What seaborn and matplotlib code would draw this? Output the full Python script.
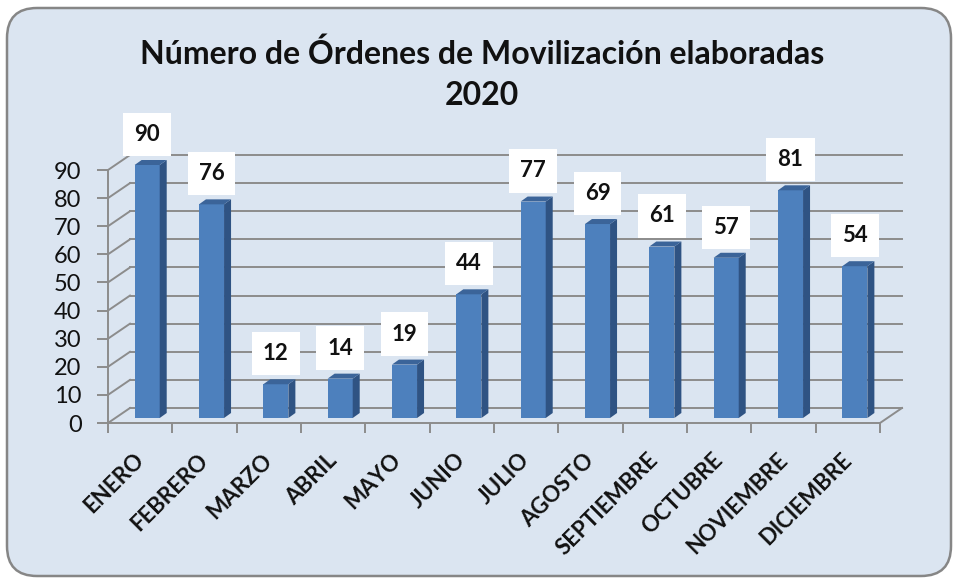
import numpy as np
import pandas as pd
import seaborn as sns
import matplotlib
matplotlib.use("Agg")
import matplotlib.pyplot as plt
from matplotlib.patches import Polygon, FancyBboxPatch
from matplotlib.transforms import ScaledTranslation


# datos del grafico
meses = ["ENERO", "FEBRERO", "MARZO", "ABRIL", "MAYO", "JUNIO", "JULIO",
         "AGOSTO", "SEPTIEMBRE", "OCTUBRE", "NOVIEMBRE", "DICIEMBRE"]
ordenes = [90, 76, 12, 14, 19, 44, 77, 69, 61, 57, 81, 54]
yticks = list(range(0, 100, 10))
titulo = "Número de Órdenes de Movilización elaboradas\n2020"

# estetica
plt.rcParams["font.family"] = ["Lato", "DejaVu Sans"]
fondo = "#dbe5f1"
cara = "#4d80bd"
lado = "#2f5383"
techo = "#3b6499"
rejilla = "#8c8c8c"
texto = "#111111"

fig = plt.figure(figsize=(9.58, 5.82), dpi=100, facecolor="white")

# marco redondeado del grafico
marco = FancyBboxPatch((0.07, 0.06), 9.44, 5.68,
                       boxstyle="round,pad=0,rounding_size=0.3",
                       transform=fig.dpi_scale_trans,
                       fc=fondo, ec="#868686", lw=1.8, zorder=0)
fig.add_artist(marco)

ax = fig.add_axes([108 / 958, 159 / 582, 772 / 958, 253 / 582])
ax.set_facecolor("none")

df = pd.DataFrame({"Mes": meses, "Ordenes": ordenes})
sns.barplot(data=df, x="Mes", y="Ordenes", color=cara, saturation=1,
            width=0.39, ax=ax, zorder=3)
ax.set_xlim(-0.5, len(meses) - 0.5)
ax.set_ylim(yticks[0], yticks[-1])

# pixeles -> unidades de datos
dpx = (ax.get_xlim()[1] - ax.get_xlim()[0]) / ax.bbox.width
dpy = (ax.get_ylim()[1] - ax.get_ylim()[0]) / ax.bbox.height


def desplazado(dx, dy, base=None):
    base = ax.transData if base is None else base
    return base + ScaledTranslation(dx / fig.dpi, dy / fig.dpi, fig.dpi_scale_trans)


# pared del fondo y pared lateral (efecto 3D)
pared = desplazado(22, 15)
x0, x1 = ax.get_xlim()
for v in yticks:
    ax.plot([x0, x1], [v, v], transform=pared, color=rejilla, lw=1.4,
            clip_on=False, zorder=1)
    ax.plot([x0, x0 + 22 * dpx], [v, v + 15 * dpy], color=rejilla, lw=1.4,
            clip_on=False, zorder=1)
ax.plot([x1, x1 + 22 * dpx], [0, 15 * dpy], color=rejilla, lw=1.4,
        clip_on=False, zorder=1)

# barras con caras laterales y superiores
tb = desplazado(7, 5)
ddx, ddy = 7 * dpx, 5 * dpy
for p, v in zip(ax.patches, ordenes):
    p.set_transform(tb)
    p.set_edgecolor("none")
    p.set_clip_on(False)
    bx0 = p.get_x()
    bx1 = bx0 + p.get_width()
    h = p.get_height()
    ax.add_patch(Polygon([(bx1, 0), (bx1, h), (bx1 + ddx, h + ddy), (bx1 + ddx, ddy)],
                         closed=True, fc=lado, ec="none", transform=tb, zorder=3,
                         clip_on=False))
    ax.add_patch(Polygon([(bx0, h), (bx1, h), (bx1 + ddx, h + ddy), (bx0 + ddx, h + ddy)],
                         closed=True, fc=techo, ec="none", transform=tb, zorder=3,
                         clip_on=False))
    ax.annotate(str(v), xy=((bx0 + bx1) / 2, h), xycoords=tb,
                xytext=(0, 22), textcoords="offset points",
                ha="center", va="center", fontsize=16, fontweight="bold",
                color=texto, zorder=5, annotation_clip=False,
                bbox=dict(boxstyle="square,pad=0.5", fc="white", ec="none"))

# ejes
for s in ["top", "right"]:
    ax.spines[s].set_visible(False)
for s in ["left", "bottom"]:
    ax.spines[s].set_color(rejilla)
    ax.spines[s].set_linewidth(1.4)
    ax.spines[s].set_zorder(2)

ax.set_yticks(yticks)
ax.tick_params(axis="y", length=8, width=1.4, color=rejilla, labelsize=17,
               labelcolor=texto, pad=11)
ax.set_xticks(range(len(meses)))
ax.set_xticks(np.arange(-0.5, len(meses), 1), minor=True)
ax.set_xticklabels(meses, rotation=45, ha="right", va="top",
                   rotation_mode="anchor", fontweight="bold", fontsize=16,
                   color=texto)
ax.tick_params(axis="x", which="major", length=0, pad=19)
ax.tick_params(axis="x", which="minor", length=7, width=1.4, color=rejilla)
for lbl in ax.get_xticklabels():
    lbl.set_transform(desplazado(-7, 0, lbl.get_transform()))
ax.set_xlabel("")
ax.set_ylabel("")

fig.text(482 / 958, 1 - 74 / 582, titulo, ha="center", va="center",
         multialignment="center", fontsize=23, fontweight="bold",
         color=texto, linespacing=1.5)

fig.savefig("out.png", dpi=100, facecolor="white")
